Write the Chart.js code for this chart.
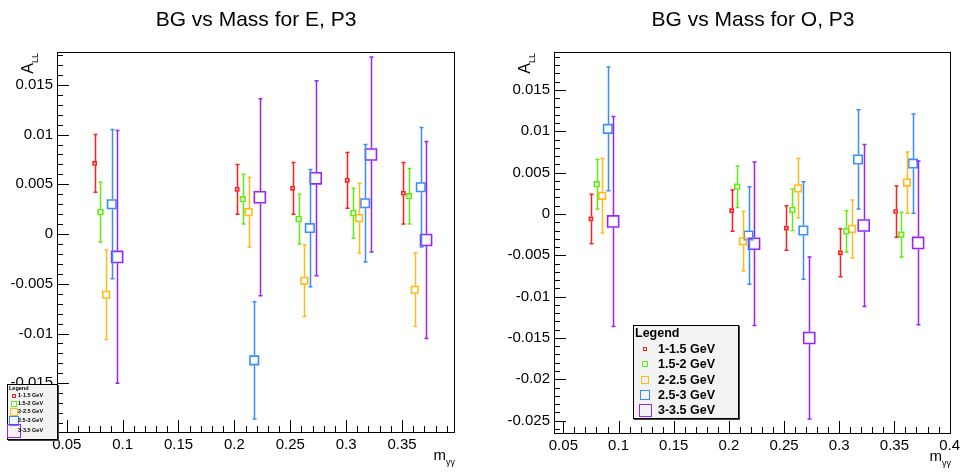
<!DOCTYPE html>
<html><head><meta charset="utf-8">
<script src="https://cdn.jsdelivr.net/npm/chart.js@4.4.0/dist/chart.umd.min.js"></script>
<style>
body{margin:0;background:#fff;width:964px;height:472px;overflow:hidden;position:relative;font-family:"Liberation Sans",Arial,Helvetica,sans-serif;color:#000}
canvas{position:absolute;top:0}
.title{position:absolute;top:8px;font-size:21px;line-height:21px;white-space:nowrap;transform:translateX(-50%)}
.ylab{position:absolute;width:70px;text-align:right;font-size:16px;line-height:16px;transform-origin:0 0;transform:rotate(-90deg);white-space:nowrap}
.xlab{position:absolute;width:60px;text-align:right;font-size:15px;line-height:15px;white-space:nowrap}
.leg{position:absolute;background:#f3f3f3;border:1px solid #000;box-shadow:1px 1px 0 #444;box-sizing:border-box}
.lt{position:absolute;font-weight:bold;white-space:nowrap}
.mk{position:absolute;box-sizing:border-box;border-style:solid}
</style></head>
<body>
<canvas id="cE" width="482" height="472" style="left:0;width:482px;height:472px"></canvas>
<canvas id="cO" width="482" height="472" style="left:482px;width:482px;height:472px"></canvas>

<div class="title" style="left:256px">BG vs Mass for E, P3</div>
<div class="title" style="left:753px">BG vs Mass for O, P3</div>

<div class="ylab" style="left:20px;top:123px">A<span style="font-size:9px;position:relative;top:5px">LL</span></div>
<div class="ylab" style="left:517px;top:123px">A<span style="font-size:9px;position:relative;top:5px">LL</span></div>

<div class="xlab" style="left:395px;top:447px">m<span style="font-size:9px;position:relative;top:5px">γγ</span></div>
<div class="xlab" style="left:891px;top:448px">m<span style="font-size:9px;position:relative;top:5px">γγ</span></div>

<div id="legE" class="leg" style="left:7px;top:384px;width:51px;height:56px"></div>
<div id="legO" class="leg" style="left:633px;top:325px;width:106px;height:94px"></div>

<script>
// ---------- data ----------
const binLabels = ['1-1.5 GeV', '1.5-2 GeV', '2-2.5 GeV', '2.5-3 GeV', '3-3.5 GeV'];

// mass positions (m_gamma gamma) for each energy bin
const massRed    = [0.0750, 0.2025, 0.2521, 0.3010, 0.3512];
const massGreen  = [0.0802, 0.2075, 0.2575, 0.3064, 0.3562];
const massOrange = [0.0852, 0.2127, 0.2627, 0.3116, 0.3614];
const massBlue   = [0.0903, 0.2178, 0.2675, 0.3170, 0.3668];
const massPurple = [0.0951, 0.2228, 0.2728, 0.3222, 0.3715];

// panel E: A_LL values and errors
const eRed       = [0.0071, 0.0045, 0.0046, 0.0054, 0.0041];
const eRedErr    = [0.0029, 0.0025, 0.0026, 0.0028, 0.0031];
const eGreen     = [0.0022, 0.0035, 0.0015, 0.0021, 0.0038];
const eGreenErr  = [0.0030, 0.0025, 0.0025, 0.0025, 0.0028];
const eOrange    = [-0.0061, 0.0022, -0.0047, 0.0016, -0.0056];
const eOrangeErr = [0.0045, 0.0035, 0.0036, 0.0035, 0.0037];
const eBlue      = [0.0030, -0.0127, 0.0006, 0.0031, 0.0047];
const eBlueErr   = [0.0075, 0.0059, 0.0059, 0.0059, 0.0060];
const ePurple    = [-0.0023, 0.0037, 0.0056, 0.0080, -0.0006];
const ePurpleErr = [0.0127, 0.0099, 0.0098, 0.0098, 0.0099];

// panel O: A_LL values and errors
const oRed       = [-0.0006, 0.0004, -0.0017, -0.0047, 0.0003];
const oRedErr    = [0.0030, 0.0025, 0.0027, 0.0029, 0.0031];
const oGreen     = [0.0036, 0.0033, 0.0005, -0.0021, -0.0025];
const oGreenErr  = [0.0030, 0.0025, 0.0025, 0.0025, 0.0027];
const oOrange    = [0.0022, -0.0033, 0.0031, -0.0018, 0.0038];
const oOrangeErr = [0.0045, 0.0036, 0.0036, 0.0035, 0.0037];
const oBlue      = [0.0103, -0.0026, -0.0020, 0.0066, 0.0061];
const oBlueErr   = [0.0075, 0.0059, 0.0059, 0.0060, 0.0060];
const oPurple    = [-0.0009, -0.0036, -0.0150, -0.0014, -0.0035];
const oPurpleErr = [0.0127, 0.0099, 0.0098, 0.0098, 0.0099];

// tick labels
const xTicksE = [0.05, 0.1, 0.15, 0.2, 0.25, 0.3, 0.35];
const xTicksO = [0.05, 0.1, 0.15, 0.2, 0.25, 0.3, 0.35, 0.4];
const yTicksE = [-0.015, -0.01, -0.005, 0, 0.005, 0.01, 0.015];
const yTicksO = [-0.025, -0.02, -0.015, -0.01, -0.005, 0, 0.005, 0.01, 0.015];

// ---------- styles ----------
const colors = ['#ff1f1f', '#5fee10', '#ffbb18', '#3a8cff', '#9a22ff'];
const radii  = [2.2, 3.3, 4.7, 6.0, 7.8];
const massX  = [massRed, massGreen, massOrange, massBlue, massPurple];

const rootFrame = {
  id: 'rootFrame',
  afterDraw(chart) {
    const {ctx, chartArea: a, scales: {x, y}} = chart;
    ctx.save();
    ctx.strokeStyle = '#000';
    ctx.lineWidth = 1;
    ctx.strokeRect(Math.round(a.left) + 0.5, Math.round(a.top) + 0.5,
                   Math.round(a.right - a.left), Math.round(a.bottom - a.top));
    ctx.beginPath();
    // y ticks: minor 0.001, major 0.005
    const k0 = Math.ceil(y.min * 1000 - 1e-6), k1 = Math.floor(y.max * 1000 + 1e-6);
    for (let k = k0; k <= k1; k++) {
      const py = Math.round(y.getPixelForValue(k / 1000)) + 0.5;
      const len = (k % 5 === 0) ? 12 : 6;
      ctx.moveTo(a.left, py); ctx.lineTo(a.left + len, py);
    }
    // x ticks: minor 0.01, major 0.05
    const j0 = Math.ceil(x.min * 100 - 1e-6), j1 = Math.floor(x.max * 100 + 1e-6);
    for (let j = j0; j <= j1; j++) {
      const px = Math.round(x.getPixelForValue(j / 100)) + 0.5;
      const len = (j % 5 === 0) ? 12 : 6;
      ctx.moveTo(px, a.bottom); ctx.lineTo(px, a.bottom - len);
    }
    ctx.stroke();
    ctx.restore();
  }
};

const errorBars = {
  id: 'errorBars',
  afterDatasetsDraw(chart) {
    const {ctx, scales: {y}} = chart;
    ctx.save();
    chart.data.datasets.forEach((ds, i) => {
      const meta = chart.getDatasetMeta(i);
      const gap = ds.pointRadius * Math.SQRT1_2 + 0.8;
      ctx.strokeStyle = ds.borderColor;
      ctx.lineWidth = 1.5;
      meta.data.forEach((pt, j) => {
        const v = ds.data[j].y, e = ds.errors[j];
        const px = Math.round(pt.x) + 0.5;
        const yt = y.getPixelForValue(v + e), yb = y.getPixelForValue(v - e);
        ctx.beginPath();
        ctx.moveTo(px, yt); ctx.lineTo(px, pt.y - gap);
        ctx.moveTo(px, pt.y + gap); ctx.lineTo(px, yb);
        ctx.moveTo(px - 2, yt); ctx.lineTo(px + 2, yt);
        ctx.moveTo(px - 2, yb); ctx.lineTo(px + 2, yb);
        ctx.stroke();
      });
    });
    ctx.restore();
  }
};

function fmt(v) { return String(+Number(v).toFixed(4)); }

function makePanel(id, vals, errs, xr, yr, xTicks, yTicks, pad, yW, xH) {
  const datasets = vals.map((arr, i) => ({
    label: binLabels[i],
    data: arr.map((v, j) => ({x: massX[i][j], y: v})),
    errors: errs[i],
    borderColor: colors[i],
    backgroundColor: 'rgba(0,0,0,0)',
    pointStyle: 'rect',
    pointRadius: radii[i],
    pointHoverRadius: radii[i],
    pointBorderWidth: 1.6,
    pointBackgroundColor: 'rgba(0,0,0,0)',
    showLine: false
  }));
  new Chart(document.getElementById(id), {
    type: 'scatter',
    data: {datasets},
    plugins: [errorBars, rootFrame],
    options: {
      responsive: false, animation: false, events: [],
      layout: {padding: pad},
      plugins: {legend: {display: false}, tooltip: {enabled: false}, title: {display: false}},
      scales: {
        x: {
          type: 'linear', min: xr[0], max: xr[1],
          grid: {display: false, drawTicks: false}, border: {display: false},
          afterBuildTicks: s => { s.ticks = xTicks.map(v => ({value: v})); },
          afterFit: s => { s.height = xH; },
          ticks: {autoSkip: false, maxRotation: 0, padding: 4, color: '#000',
                  font: {family: 'Liberation Sans', size: 15}, callback: v => fmt(v)}
        },
        y: {
          type: 'linear', min: yr[0], max: yr[1],
          grid: {display: false, drawTicks: false}, border: {display: false},
          afterBuildTicks: s => { s.ticks = yTicks.map(v => ({value: v})); },
          afterFit: s => { s.width = yW; },
          ticks: {autoSkip: false, padding: 4, color: '#000',
                  font: {family: 'Liberation Sans', size: 15}, callback: v => fmt(v)}
        }
      }
    }
  });
}

makePanel('cE',
  [eRed, eGreen, eOrange, eBlue, ePurple],
  [eRedErr, eGreenErr, eOrangeErr, eBlueErr, ePurpleErr],
  [0.0413, 0.3965], [-0.0199, 0.0183], xTicksE, yTicksE,
  {top: 52, right: 28, bottom: 0, left: 0}, 57, 40);

makePanel('cO',
  [oRed, oGreen, oOrange, oBlue, oPurple],
  [oRedErr, oGreenErr, oOrangeErr, oBlueErr, oPurpleErr],
  [0.0415, 0.4], [-0.0265, 0.0196], xTicksO, yTicksO,
  {top: 52, right: 14, bottom: 0, left: 0}, 72, 39);

// ---------- legends ----------
function buildLegend(boxId, o) {
  const box = document.getElementById(boxId);
  const bl = box.offsetLeft, bt = box.offsetTop;
  const add = (html) => { const d = document.createElement('div'); d.innerHTML = html; document.body.appendChild(d.firstChild); };
  add(`<div class="lt" style="left:${o.headX}px;top:${o.headY - 0.49 * o.fs}px;font-size:${o.fs}px;line-height:${o.fs}px">Legend</div>`);
  binLabels.forEach((lab, i) => {
    const yc = o.ys[i], s = o.sizes[i];
    add(`<div class="mk" style="left:${o.mx - s / 2}px;top:${yc - s / 2}px;width:${s}px;height:${s}px;border-width:${o.bw}px;border-color:${colors[i]}"></div>`);
    add(`<div class="lt" style="left:${o.tx}px;top:${yc - 0.49 * o.fs}px;font-size:${o.fs}px;line-height:${o.fs}px">${lab}</div>`);
  });
}
buildLegend('legE', {headX: 9, headY: 389, fs: 5.5, mx: 13.5, tx: 18, bw: 1.4,
  ys: [396, 404, 412, 420.5, 431], sizes: [4, 6, 8, 10, 14]});
buildLegend('legO', {headX: 635, headY: 333, fs: 12.5, mx: 645, tx: 658, bw: 1.6,
  ys: [349, 364, 380, 395, 410], sizes: [4, 6, 8, 10, 13]});
</script>
</body></html>
